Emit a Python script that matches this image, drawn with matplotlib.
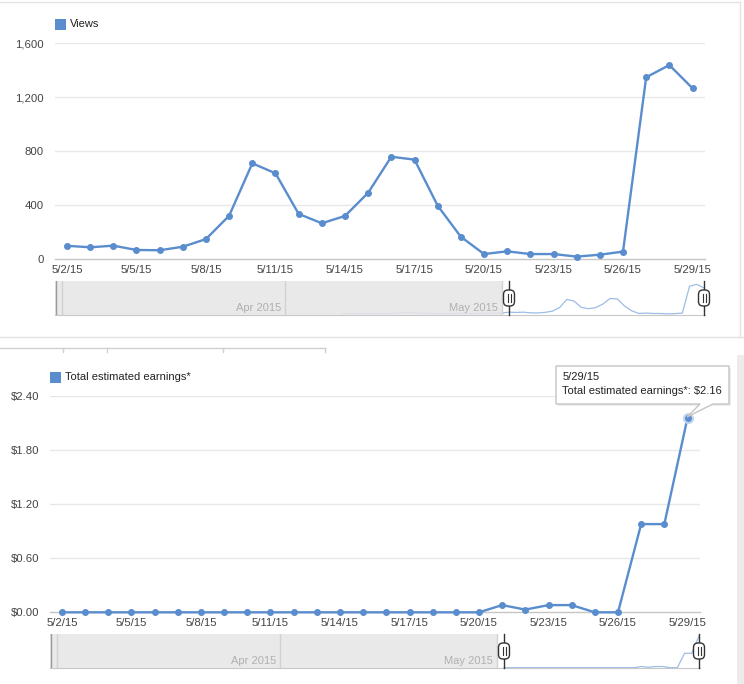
import numpy as np
import pandas as pd
import matplotlib
matplotlib.use('Agg')
import matplotlib.pyplot as plt
from matplotlib.patches import Rectangle, FancyBboxPatch, Polygon

plt.rcParams['font.family'] = ['Liberation Sans', 'DejaVu Sans']

# ---- data ----
dates = pd.date_range('2015-05-02', '2015-05-29')
day_labels = [f'{d.month}/{d.day}/{d.strftime("%y")}' for d in dates]

views = [100, 89, 101, 69, 67, 93, 150, 323, 711, 637, 336, 267, 321, 493,
         760, 738, 397, 167, 39, 59, 39, 39, 20, 34, 57, 1348, 1439, 1267]

earnings = [0, 0, 0, 0, 0, 0, 0, 0, 0, 0, 0, 0, 0, 0, 0, 0, 0, 0, 0,
            0.08, 0.03, 0.08, 0.08, 0, 0, 0.98, 0.98, 2.16]

# views shown faintly in the range navigator before the selection (4/9 - 5/1)
april_views = [25, 30, 28, 35, 30, 32, 40, 45, 60, 110, 70, 50, 45, 40, 42,
               38, 45, 50, 40, 45, 50, 55, 70]

views_ticks = [0, 400, 800, 1200, 1600]
earnings_ticks = [0, 0.6, 1.2, 1.8, 2.4]

W, H = 744, 684
LINE = '#5a8dcd'
fig = plt.figure(figsize=(W / 100, H / 100), dpi=100)
fig.patch.set_facecolor('white')


def px_axes(l, t, r, b, z=1):
    ax = fig.add_axes([l / W, 1 - b / H, (r - l) / W, (b - t) / H], zorder=z)
    ax.patch.set_alpha(0)
    return ax


bg = px_axes(0, 0, W, H, z=0)
bg.set_xlim(0, W)
bg.set_ylim(H, 0)
bg.axis('off')
fg = px_axes(0, 0, W, H, z=5)
fg.set_xlim(0, W)
fg.set_ylim(H, 0)
fg.axis('off')

# page chrome: panel border, tab strip, right scroll strip
bg.plot([0, 740], [1.5, 1.5], color='#e3e3e3', lw=1)
bg.plot([740, 740], [1.5, 336.7], color='#e3e3e3', lw=1)
bg.plot([0, W], [336.7, 336.7], color='#e3e3e3', lw=1)
bg.plot([0, 325], [347.7, 347.7], color='#d0d0d0', lw=1)
for xv in [63, 107, 223, 325]:
    bg.plot([xv, xv], [347.7, 352], color='#d0d0d0', lw=1)
bg.add_patch(Rectangle((737, 355), 7, H - 355, color='#ececec', lw=0))


def panel(dx, dy, values, ticks, fmt, label, nav_values, nav_ylim):
    left, right = 55 + dx, 705 + dx
    top, bottom = 43.3 + dy, 259.3 + dy
    ax = px_axes(left, top, right, bottom, z=2)
    x = np.arange(len(values))
    ax.plot(x, values, color=LINE, lw=1.7, marker='o', ms=4, clip_on=False, zorder=3)
    ax.set_xlim(-12 / 23.17, 27 + 12.5 / 23.17)
    ax.set_ylim(ticks[0], ticks[-1])
    for t in ticks[1:]:
        ax.axhline(t, color='#e8e8e8', lw=1, zorder=1)
    ax.axhline(0, color='#c6c6c6', lw=1, zorder=2, clip_on=False)
    for s in ax.spines.values():
        s.set_visible(False)
    ax.set_yticks(ticks)
    ax.set_yticklabels([fmt(t) for t in ticks])
    ax.set_xticks(x[::3])
    ax.set_xticklabels(day_labels[::3])
    ax.tick_params(length=0, labelsize=8.2, colors='#444444')
    ax.tick_params(axis='y', pad=8)
    ax.tick_params(axis='x', pad=4)

    # legend
    fg.add_patch(Rectangle((left, 19 + dy), 11, 10.7, color=LINE, lw=0))
    fg.text(left + 15, 24.3 + dy, label, va='center', ha='left', fontsize=8, color='#222222')

    # range navigator
    ntop, nbot = 281 + dy, 315 + dy
    nav = px_axes(left, ntop, right, nbot, z=3)
    pxd = 195 / 27
    x0 = -454 / pxd
    nav.set_xlim(x0, 27 + 1 / pxd)
    nav.set_ylim(*nav_ylim)
    nx = np.arange(-len(nav_values) + len(values), len(values))
    nav.plot(nx, nav_values, color='#9dbde6', lw=0.9, zorder=2)
    nav.axvspan(x0, -0.9, color='#e6e6e6', alpha=0.88, lw=0, zorder=3)
    nav.axvline(x0 + 0.1, color='#9a9a9a', lw=1, zorder=4)
    nav.axvline(x0 + 7 / pxd, color='#d2d2d2', lw=1, zorder=4)
    nav.axvline(-31, color='#d2d2d2', lw=1, zorder=4)
    nav.axvline(-1, color='#d2d2d2', lw=1, zorder=4)
    tr = nav.get_xaxis_transform()
    nav.text(-31 - 4 / pxd, 0.2, 'Apr 2015', transform=tr, ha='right', va='center',
             fontsize=8, color='#b0b0b0', zorder=5)
    nav.text(-1 - 4 / pxd, 0.2, 'May 2015', transform=tr, ha='right', va='center',
             fontsize=8, color='#b0b0b0', zorder=5)
    for s in ['top', 'left', 'right']:
        nav.spines[s].set_visible(False)
    nav.spines['bottom'].set_color('#c8c8c8')
    nav.set_xticks([])
    nav.set_yticks([])

    # handles
    for hx in [left + 454, left + 649]:
        fg.plot([hx, hx], [ntop, nbot], color='#333333', lw=1, zorder=2)
        fg.add_patch(FancyBboxPatch((hx - 5.5, ntop + 9), 11, 16,
                                    boxstyle='round,pad=0,rounding_size=4.5',
                                    fc='white', ec='#333333', lw=1, zorder=3))
        for g in [-1.5, 1.5]:
            fg.plot([hx + g, hx + g], [ntop + 13, ntop + 21], color='#333333',
                    lw=0.8, zorder=4)
    return ax


panel(0, 0, views, views_ticks, lambda t: f'{t:,}', 'Views',
      april_views + views, (-34, 1600))
ax2 = panel(-5, 353, earnings, earnings_ticks, lambda t: f'${t:.2f}',
            'Total estimated earnings*', earnings, (-0.02, 2.29))

# hovered point and tooltip
ax2.plot([27], [earnings[-1]], 'o', ms=6.5, mfc=LINE, mec='#c3d5ee', mew=1.5,
         clip_on=False, zorder=4)
fg.add_patch(Rectangle((558, 368), 173, 38, color='#000000', alpha=0.07, lw=0))
tip = [(556, 366), (729, 366), (729, 404), (713, 404), (687, 417), (700, 404), (556, 404)]
fg.add_patch(Polygon(tip, closed=True, fc='white', ec='#c4c4c4', lw=1))
fg.text(562.5, 377.3, '5/29/15', va='center', ha='left', fontsize=8, color='#222222')
fg.text(562.5, 391.5, 'Total estimated earnings*: $2.16', va='center', ha='left',
        fontsize=8, color='#222222')

fig.savefig('out.png', dpi=100)
